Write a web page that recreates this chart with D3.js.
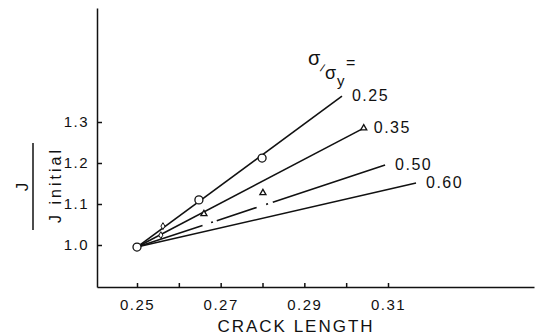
<!DOCTYPE html>
<html>
<head>
<meta charset="utf-8">
<script src="https://cdn.jsdelivr.net/npm/d3@7"></script>
<style>
  body { margin: 0; background: #fff; }
  svg { display: block; font-family: "Liberation Sans", Arial, sans-serif; }
  .axis path, .axis line { stroke: #111; stroke-width: 1.5; }
  .axis text { font-size: 15px; letter-spacing: 1.5px; fill: #111; font-family: "Liberation Sans", Arial, sans-serif; }
</style>
</head>
<body>
<div class="chart"></div>
<script>
// J / J initial against crack length, one line for each stress ratio

// data
var ratios = ["0.25", "0.35", "0.50", "0.60"];
var lineStart = [0.25, 0.995];
var lineEnds = [[0.299, 1.363], [0.3042, 1.285], [0.3093, 1.195], [0.3167, 1.151]];
var circlePoints = [[0.25, 0.995], [0.2648, 1.11], [0.2799, 1.212]];
var trianglePoints = [[0.266, 1.076], [0.2801, 1.127], [0.3042, 1.285]];
var diamondPoints = [[0.2562, 1.046], [0.2557, 1.024]];
var xTicks = [0.25, 0.26, 0.27, 0.28, 0.29, 0.30, 0.31];
var xTickLabels = {0.25: "0.25", 0.27: "0.27", 0.29: "0.29", 0.31: "0.31"};
var yTicks = [1.0, 1.1, 1.2, 1.3];

var width = 536, height = 335;

var svg = d3.select(".chart").append("svg")
    .attr("width", width)
    .attr("height", height);

// scales calibrated on the tick marks
var x = d3.scaleLinear().domain([0.25, 0.31]).range([137, 388]);
var y = d3.scaleLinear().domain([1.0, 1.3]).range([245, 122]);

// axis scales run the full length of the drawn axes
var xFull = d3.scaleLinear().domain([x.invert(97), x.invert(534)]).range([97, 534]);
var yFull = d3.scaleLinear().domain([y.invert(287), y.invert(8)]).range([287, 8]);

var xAxis = d3.axisBottom(xFull)
    .tickValues(xTicks)
    .tickSizeInner(-4)
    .tickSizeOuter(0)
    .tickPadding(12)
    .tickFormat(function(d) { return xTickLabels[d.toFixed(2)] || ""; });

var yAxis = d3.axisLeft(yFull)
    .tickValues(yTicks)
    .tickSizeInner(-5)
    .tickSizeOuter(0)
    .tickPadding(8)
    .tickFormat(d3.format(".1f"));

svg.append("g")
    .attr("class", "axis")
    .attr("transform", "translate(0,287)")
    .call(xAxis);

svg.append("g")
    .attr("class", "axis")
    .attr("transform", "translate(97,0)")
    .call(yAxis);

// lines from the common start point
var line = d3.line()
    .x(function(d) { return x(d[0]); })
    .y(function(d) { return y(d[1]); });

svg.selectAll(".ratio-line")
    .data(lineEnds)
    .enter().append("path")
    .attr("class", "ratio-line")
    .attr("d", function(d) { return line([lineStart, d]); })
    .attr("fill", "none")
    .attr("stroke", "#111")
    .attr("stroke-width", 1.6)
    .attr("stroke-dasharray", function(d, i) {
        return i == 2 ? "69,9,2,4,42,10,2,5,300" : null;
    });

// line labels
svg.selectAll(".ratio-label")
    .data(lineEnds)
    .enter().append("text")
    .attr("class", "ratio-label")
    .attr("x", function(d) { return x(d[0]) + 10; })
    .attr("y", function(d) { return y(d[1]) + 5; })
    .style("font-size", "16px")
    .style("letter-spacing", "1.5px")
    .attr("fill", "#111")
    .text(function(d, i) { return ratios[i]; });

// markers
svg.selectAll(".diamond")
    .data(diamondPoints)
    .enter().append("path")
    .attr("class", "diamond")
    .attr("d", d3.symbol().type(d3.symbolDiamond).size(14))
    .attr("transform", function(d) { return "translate(" + x(d[0]) + "," + y(d[1]) + ")"; })
    .attr("fill", "#fff")
    .attr("stroke", "#111")
    .attr("stroke-width", 1);

svg.selectAll(".tri")
    .data(trianglePoints)
    .enter().append("path")
    .attr("class", "tri")
    .attr("d", d3.symbol().type(d3.symbolTriangle).size(16))
    .attr("transform", function(d) { return "translate(" + x(d[0]) + "," + y(d[1]) + ")"; })
    .attr("fill", "#fff")
    .attr("stroke", "#111")
    .attr("stroke-width", 1.3);

svg.selectAll(".dot")
    .data(circlePoints)
    .enter().append("circle")
    .attr("class", "dot")
    .attr("cx", function(d) { return x(d[0]); })
    .attr("cy", function(d) { return y(d[1]); })
    .attr("r", 4)
    .attr("fill", "#fff")
    .attr("stroke", "#111")
    .attr("stroke-width", 1.3);

// sigma / sigma_y = legend title
var sig = svg.append("g").attr("fill", "#111");
sig.append("text").attr("x", 308).attr("y", 65).style("font-size", "20px").text("σ");
sig.append("text").attr("x", 321).attr("y", 72).style("font-size", "11px")
    .attr("transform", "rotate(20,323,68)").text("/");
sig.append("text").attr("x", 325).attr("y", 79).style("font-size", "18px").text("σ");
sig.append("text").attr("x", 337).attr("y", 86).style("font-size", "15px").text("y");
sig.append("text").attr("x", 346).attr("y", 68).style("font-size", "16px").text("=");

// axis titles
svg.append("text")
    .attr("x", 296)
    .attr("y", 332)
    .attr("text-anchor", "middle")
    .style("font-size", "17px")
    .style("letter-spacing", "2px")
    .attr("fill", "#111")
    .text("CRACK LENGTH");

svg.append("text")
    .attr("transform", "translate(28,187) rotate(-90)")
    .attr("text-anchor", "middle")
    .style("font-size", "17px")
    .attr("fill", "#111")
    .text("J");

svg.append("line")
    .attr("x1", 33).attr("x2", 33)
    .attr("y1", 143).attr("y2", 230)
    .attr("stroke", "#111")
    .attr("stroke-width", 1.5);

svg.append("text")
    .attr("transform", "translate(61,185) rotate(-90)")
    .attr("text-anchor", "middle")
    .style("font-size", "16px")
    .style("letter-spacing", "3px")
    .attr("fill", "#111")
    .text("J initial");
</script>
</body>
</html>
